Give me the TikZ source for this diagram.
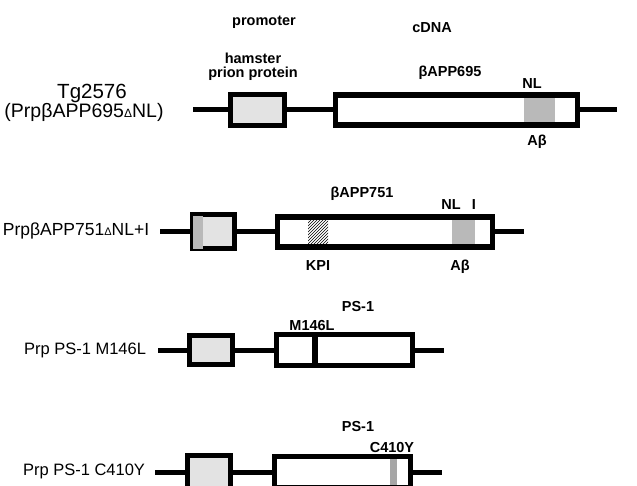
\documentclass[tikz,border=0pt]{standalone}
\usepackage{fontspec}
\setmainfont{Liberation Sans}
\usetikzlibrary{patterns}
\begin{document}
\begin{tikzpicture}[x=1pt,y=-1pt,
  conn/.style={line width=5pt},
  promo/.style={draw, line width=5pt, fill=gray!22, minimum width=#1, inner sep=0pt},
  cdnabox/.style={draw, line width=5.5pt, inner sep=0pt},
  small/.style={font=\fontsize{14.5}{15}\selectfont\bfseries, inner sep=0pt},
  big/.style={font=\fontsize{16.5}{18}\selectfont, inner sep=0pt},
  nlfill/.style={fill=gray!55},
]
\clip (0,0) rectangle (637,486);
\fill[white] (0,0) rectangle (637,486);

% headers
\node[small] (hpro) at (264,22) {promoter};
\node[small] (hcd) at (432,28) {cDNA};
\node[small, align=center, font=\fontsize{14.5}{13.5}\selectfont\bfseries] (ham) at (253,67) {hamster\\prion protein};

% ---- Row 1
\node[big, font=\fontsize{20.5}{22}\selectfont] (l1a) at (92,93) {Tg2576};
\node[big, font=\fontsize{19.5}{22}\selectfont] (l1b) at (84,112) {(Prpβ{}APP695{\fontsize{12}{12}\selectfont Δ}NL)};
\fill[nlfill] (524,94) rectangle (555,125);
\node[promo=54, minimum height=31] (p1) at (257.5,110) {};
\node[cdnabox, minimum width=242, minimum height=30] (c1) at (456.5,110) {};
\coordinate (s1) at (193,110);
\coordinate (e1) at (617,110);
\draw[conn] (s1) -- (p1) -- (c1) -- (e1);
\node[small] (t1) at (450,73) {βAPP695};
\node[small] (nl1) at (532,84) {NL};
\node[small] (ab1) at (537,142) {Aβ};

% ---- Row 2
\node[big, font=\fontsize{17.5}{19}\selectfont] (l2) at (76,231) {Prpβ{}APP751{\fontsize{11}{11}\selectfont Δ}NL+I};
\fill[pattern=north east lines] (308,217) rectangle (328,248);
\fill[nlfill] (452,217) rectangle (475,248);
\node[promo=42, minimum height=34] (p2) at (213.5,232) {};
\fill[gray!55] (193,216) rectangle (203,249);
\node[cdnabox, minimum width=215, minimum height=30] (c2) at (385,232) {};
\coordinate (s2) at (160,232);
\coordinate (e2) at (524,232);
\draw[conn] (s2) -- (p2) -- (c2) -- (e2);
\node[small] (t2) at (362,194) {βAPP751};
\node[small] (nl2) at (451,205) {NL};
\node[small] (i2) at (474,205) {I};
\node[small] (kpi) at (318,266) {KPI};
\node[small] (ab2) at (460,267) {Aβ};

% ---- Row 3
\node[big] (l3) at (85,350) {Prp PS-1 M146L};
\fill[black] (312,335) rectangle (318,367);
\node[promo=43, minimum height=29] (p3) at (211,350) {};
\node[cdnabox, minimum width=136, minimum height=31] (c3) at (344.5,350) {};
\coordinate (s3) at (158,350);
\coordinate (e3) at (444,350);
\draw[conn] (s3) -- (p3) -- (c3) -- (e3);
\node[small] (t3) at (358,307) {PS-1};
\node[small] (m3) at (312,326) {M146L};

% ---- Row 4
\node[big] (l4) at (84,471) {Prp PS-1 C410Y};
\fill[gray!70] (390,456) rectangle (397,492);
\node[promo=43, minimum height=33] (p4) at (209,472) {};
\node[cdnabox, minimum width=136, minimum height=31] (c4) at (342.5,472) {};
\coordinate (s4) at (155,472);
\coordinate (e4) at (442,472);
\draw[conn] (s4) -- (p4) -- (c4) -- (e4);
\node[small] (t4) at (358,427) {PS-1};
\node[small] (m4) at (392,448) {C410Y};
\end{tikzpicture}
\end{document}
